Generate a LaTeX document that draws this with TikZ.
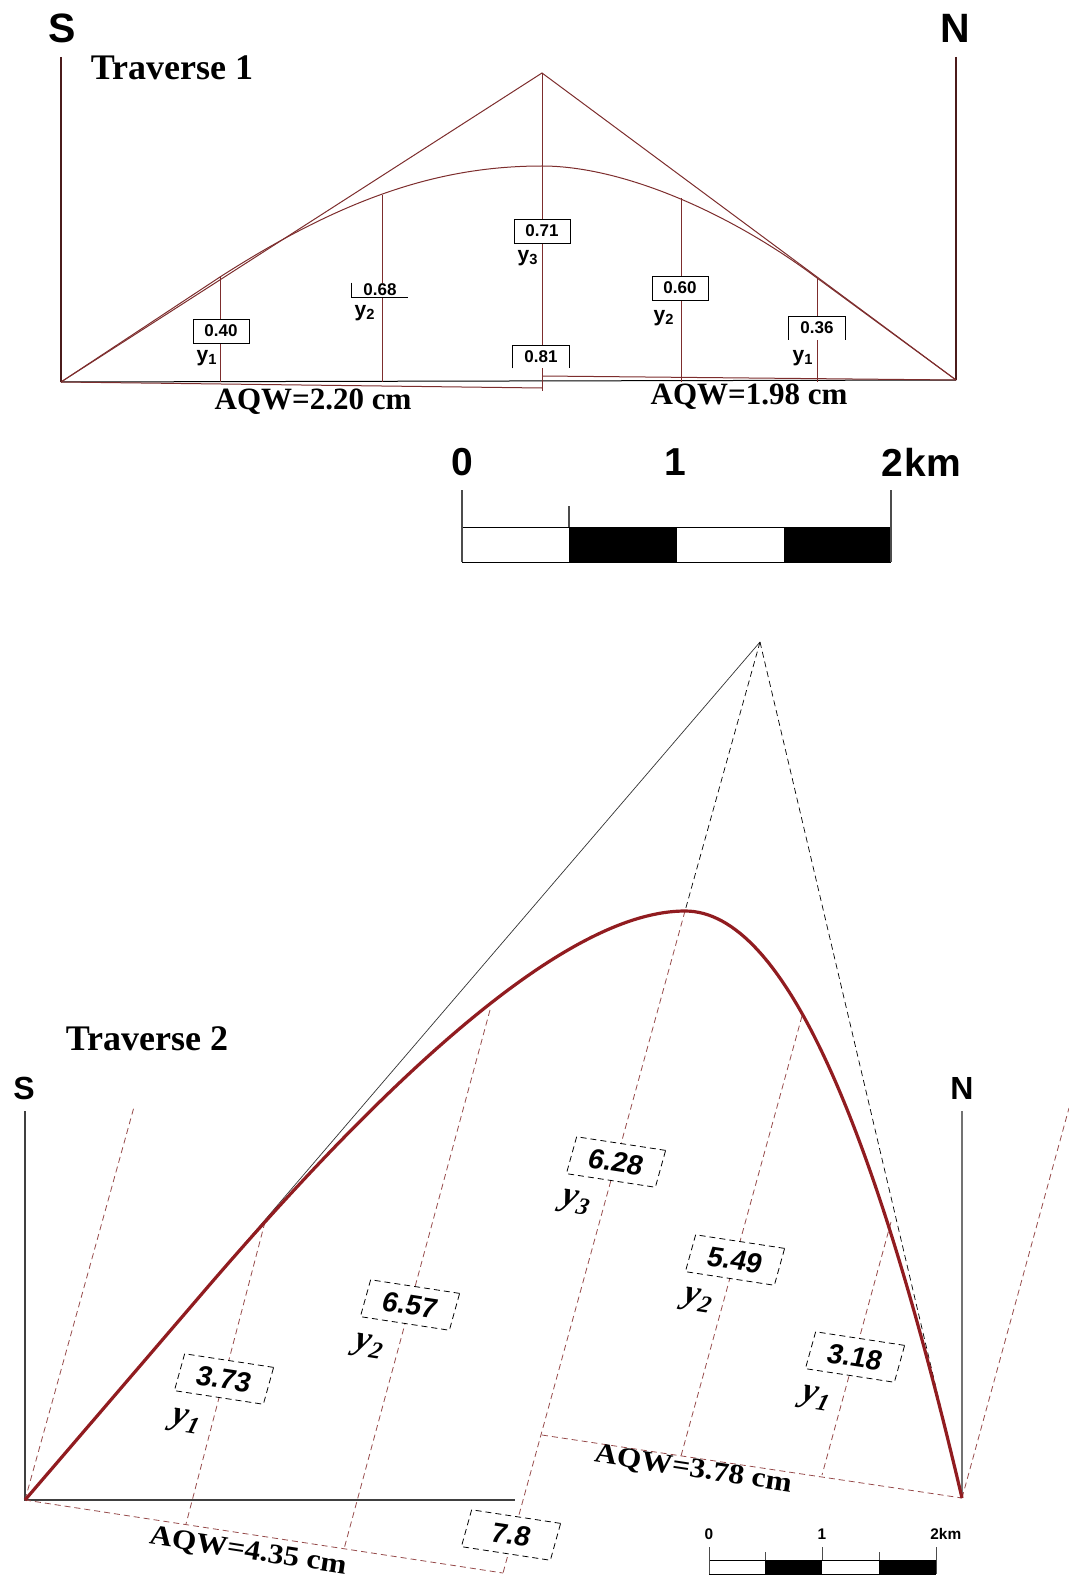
\documentclass[tikz,border=0pt]{standalone}
\usepackage{fontspec}
\setmainfont{Liberation Serif}
\newfontfamily\arialfont{Liberation Sans}
\usetikzlibrary{calc,positioning}
\definecolor{maroonline}{RGB}{125,45,45}
\definecolor{curvered}{RGB}{145,28,32}
\definecolor{ordline}{RGB}{150,75,75}
\newcommand{\yind}[1]{y\kern0.3pt\raisebox{-0.45ex}{\fontsize{12}{12}\selectfont #1}}
\tikzset{
	compass/.style={font=\arialfont\bfseries\fontsize{20.5}{21}\selectfont, inner sep=0pt},
	compasssmall/.style={font=\arialfont\bfseries\fontsize{16}{16}\selectfont, inner sep=0pt},
	title/.style={font=\bfseries\fontsize{18}{18}\selectfont, inner sep=0pt},
	aqw/.style={font=\bfseries\fontsize{15.5}{16}\selectfont, inner sep=0pt},
	aqwskew/.style={font=\bfseries\fontsize{14}{14}\selectfont, inner sep=0pt,
		rotate=-8.7, xscale=1.12, transform shape},
	valbox/.style={font=\arialfont\bfseries\fontsize{8.5}{9}\selectfont, fill=white,
		inner sep=0pt, minimum width=28pt, minimum height=12pt},
	framed/.style={draw=black, line width=0.4pt},
	ylabel/.style={font=\arialfont\bfseries\fontsize{10.5}{10}\selectfont, inner sep=0pt},
	thinline/.style={maroonline, line width=0.5pt},
	skewbox/.style={draw=black, densely dashed, line width=0.4pt, fill=white,
		rotate=-8.7, xslant=0.12, transform shape,
		minimum width=45pt, minimum height=19pt, inner sep=0pt,
		font=\arialfont\bfseries\fontsize{14}{14}\selectfont},
	skewlabel/.style={rotate=-8.7, xslant=0.12, transform shape, inner sep=0pt,
		font=\bfseries\itshape\fontsize{17.5}{18}\selectfont},
	ordinate/.style={ordline, densely dashed, line width=0.4pt},
	barlabel/.style={font=\arialfont\bfseries\fontsize{19.5}{20}\selectfont, inner sep=0pt},
	barlabelsmall/.style={font=\arialfont\bfseries\fontsize{7.7}{8}\selectfont, inner sep=0pt}
}
\begin{document}
\begin{tikzpicture}[x=0.5pt, y=-0.5pt]
\useasboundingbox (0,0) rectangle (1069,1578);
% traverse 1
\coordinate (sBase) at (61,382);
\coordinate (sTop) at (61,57);
\coordinate (nBase) at (956,380);
\coordinate (nTop) at (956,57);
\coordinate (apex) at (542,73);
\coordinate (apexFoot) at (542,391);
\coordinate (leftEnd) at (542,388);
\coordinate (rightStart) at (542,376);
\coordinate (p1) at (220,277);
\coordinate (p2) at (382,195);
\coordinate (top) at (542,166);
\coordinate (q2) at (681,198);
\coordinate (q1) at (817,278);
\draw[line width=0.9pt, maroonline!60!black] (sTop) -- (sBase);
\draw[line width=0.9pt, maroonline!60!black] (nTop) -- (nBase);
\draw[black, line width=0.5pt] (sBase) -- (nBase);
\draw[thinline] (sBase) -- (leftEnd);
\draw[thinline] (rightStart) -- (nBase);
\draw[thinline] (sBase) -- (apex) -- (nBase);
\draw[thinline] (apex) -- (apexFoot);
\draw[thinline] (sBase) -- (p1) .. controls (346,196) and (442,166) .. (top)
	.. controls (622,166) and (729,212) .. (q1) -- (nBase);
\foreach \p in {p1,p2,q2,q1}
	\draw[thinline] (\p) -- (\p |- sBase);
\node[compass] (sLabel) at (62,28) {S};
\node[compass] (nLabel) at (955,28) {N};
\node[title] (title1) at (172,68) {Traverse 1};
\node[valbox, framed] (v040) at (221,331) {0.40};
\node[valbox, minimum height=7pt] (v068) at (380,290) {0.68};
\draw[framed] (v068.north west) -- (v068.south west) -- (v068.south east);
\node[valbox, framed] (v071) at (542,231) {0.71};
\node[valbox, minimum height=11pt] (v081) at (541,357) {0.81};
\draw[framed] (v081.south west) -- (v081.north west) -- (v081.north east) -- (v081.south east);
\node[valbox, framed] (v060) at (680,288) {0.60};
\node[valbox, minimum height=11.5pt] (v036) at (817,328) {0.36};
\draw[framed] (v036.south west) -- (v036.north west) -- (v036.north east) -- (v036.south east);
\node[ylabel] (y1a) at (207,358) {y\textsubscript{1}};
\node[ylabel] (y2a) at (365,313) {y\textsubscript{2}};
\node[ylabel] (y3a) at (528,258) {y\textsubscript{3}};
\node[ylabel] (y2b) at (664,318) {y\textsubscript{2}};
\node[ylabel] (y1b) at (803,358) {y\textsubscript{1}};
\node[aqw] (aqw1) at (313,402) {AQW=2.20 cm};
\node[aqw] (aqw2) at (749,397) {AQW=1.98 cm};
% scale bar 1
\foreach \xa/\xb in {569/677, 784/891}
	\fill[black] (\xa,527) rectangle (\xb,562);
\draw[line width=0.5pt] (462,527) -- (891,527) (462,562) -- (891,562);
\draw[black!70, line width=0.6pt] (462,490) -- (462,562) (891,490) -- (891,562) (569,506) -- (569,527);
\node[barlabel] (km0) at (462,462) {0};
\node[barlabel] (km1) at (675,462) {1};
\node[barlabel, anchor=west] (km2) at (881,462) {2\kern0.5pt k\kern0.5pt m};
% traverse 2
\coordinate (sBase2) at (25,1500);
\coordinate (sTop2) at (25,1111);
\coordinate (nBase2) at (962,1498);
\coordinate (nTop2) at (962,1111);
\coordinate (apex2) at (760,642);
\coordinate (leanS) at (134,1107);
\coordinate (leanN) at (1069,1108);
\coordinate (grayEnd) at (515,1500);
\coordinate (footL) at (503,1573);
\coordinate (footR) at (542,1435);
\coordinate (bend) at (200,1296);
\coordinate (c1) at (265,1222);
\coordinate (c2) at (490,1010);
\coordinate (c3) at (685,911);
\coordinate (c4) at (802,1016);
\coordinate (c5) at (891,1222);
\coordinate (f1) at (186,1524);
\coordinate (f2) at (344,1549);
\coordinate (f4) at (681,1456);
\coordinate (f5) at (822,1475);
\draw[black!75, line width=0.6pt] (sTop2) -- (sBase2) -- (grayEnd);
\draw[black!55, line width=0.7pt] (nTop2) -- (nBase2);
\draw[black!80, line width=0.35pt] (sBase2) -- (apex2);
\draw[black, densely dashed, line width=0.35pt] (apex2) -- (nBase2);
\draw[black, densely dashed, line width=0.35pt] (apex2) -- (c3);
\draw[ordinate] (c3) -- (footL);
\draw[ordinate] (sBase2) -- (footL);
\draw[ordinate] (footR) -- (nBase2);
\draw[ordinate] (sBase2) -- (leanS);
\draw[ordinate] (nBase2) -- (leanN);
\foreach \a/\b in {c1/f1, c2/f2, c4/f4, c5/f5}
	\draw[ordinate] (\a) -- (\b);
\draw[curvered, line width=1.6pt] (sBase2) -- (bend) .. controls (408,1053) and (575,911) .. (c3)
	.. controls (785,911) and (875,1128) .. (nBase2);
\node[compasssmall] (sLabel2) at (24,1088) {S};
\node[compasssmall] (nLabel2) at (962,1088) {N};
\node[title] (title2) at (147,1039) {Traverse 2};
\node[skewbox] (v373) at (224,1379) {3.73};
\node[skewbox] (v657) at (410,1305) {6.57};
\node[skewbox] (v78) at (511,1535) {7.8};
\node[skewbox] (v628) at (616,1162) {6.28};
\node[skewbox] (v549) at (735,1260) {5.49};
\node[skewbox] (v318) at (855,1357) {3.18};
\node[skewlabel] (y1c) at (186,1421) {\yind{1}};
\node[skewlabel] (y2c) at (369,1346) {\yind{2}};
\node[skewlabel] (y3c) at (576,1202) {\yind{3}};
\node[skewlabel] (y2d) at (698,1300) {\yind{2}};
\node[skewlabel] (y1d) at (816,1398) {\yind{1}};
\node[aqwskew] (aqw3) at (248,1552) {AQW=4.35 cm};
\node[aqwskew] (aqw4) at (693,1470) {AQW=3.78 cm};
% scale bar 2
\foreach \xa/\xb in {765/822, 879/936}
	\fill[black] (\xa,1560) rectangle (\xb,1574);
\draw[line width=0.4pt] (709,1560) -- (936,1560) (709,1574) -- (936,1574);
\draw[black!70, line width=0.4pt] (709,1547) -- (709,1574) (822,1547) -- (822,1560) (936,1547) -- (936,1574) (765,1552) -- (765,1560) (879,1552) -- (879,1560);
\node[barlabelsmall] (km0b) at (709,1534) {0};
\node[barlabelsmall] (km1b) at (822,1534) {1};
\node[barlabelsmall, anchor=west] (km2b) at (930,1534) {2km};
\end{tikzpicture}
\end{document}
